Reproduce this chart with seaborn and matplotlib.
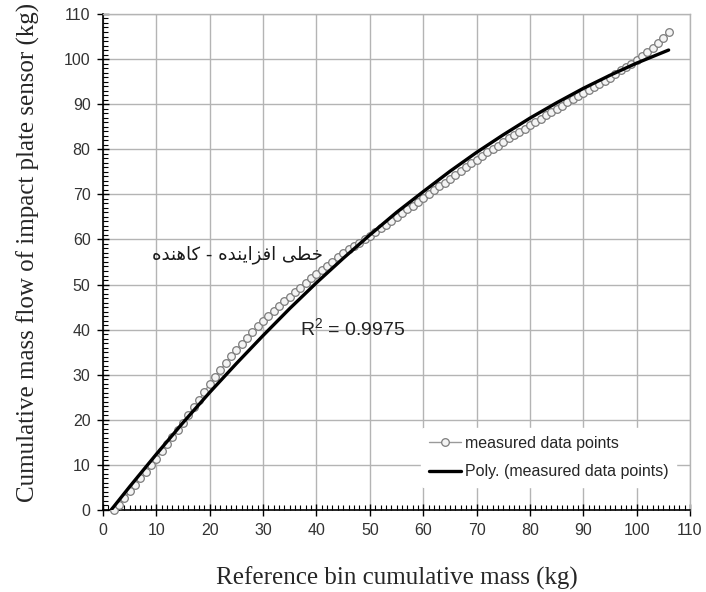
import numpy as np
import pandas as pd
import matplotlib.pyplot as plt
import seaborn as sns
from matplotlib.ticker import MultipleLocator

ref_mass = list(range(2, 107))
sensor_mass = [0.0, 1.2, 2.6, 4.2, 5.6, 7.0, 8.4, 9.9, 11.4, 13.0,
               14.6, 16.2, 17.8, 19.4, 21.1, 22.8, 24.5, 26.2, 28.0, 29.6,
               31.1, 32.6, 34.1, 35.5, 36.9, 38.2, 39.5, 40.7, 41.9, 43.0,
               44.1, 45.2, 46.3, 47.3, 48.3, 49.3, 50.3, 51.4, 52.4, 53.3,
               54.2, 55.1, 56.1, 57.0, 57.8, 58.6, 59.3, 60.1, 60.8, 61.6,
               62.5, 63.3, 64.2, 65.0, 65.9, 66.7, 67.5, 68.4, 69.2, 70.1,
               70.9, 71.8, 72.6, 73.5, 74.3, 75.2, 76.0, 76.9, 77.7, 78.5,
               79.3, 80.1, 80.8, 81.6, 82.4, 83.1, 83.9, 84.6, 85.4, 86.1,
               86.8, 87.6, 88.3, 89.0, 89.7, 90.4, 91.1, 91.7, 92.4, 93.1,
               93.8, 94.5, 95.2, 95.9, 96.7, 97.5, 98.3, 99.0, 99.8, 100.7,
               101.6, 102.5, 103.6, 104.7, 105.9]

# Poly. (measured data points) trendline
poly_x = [1.5, 5, 10, 15, 20, 25, 30, 35, 40, 45, 50, 55,
          60, 65, 70, 75, 80, 85, 90, 95, 100, 106]
poly_y = [0.0, 5.2, 12.4, 19.4, 26.1, 32.5, 38.7, 44.7, 50.4, 55.8, 61.0, 66.0,
          70.6, 75.1, 79.3, 83.2, 86.9, 90.3, 93.5, 96.4, 99.1, 102.0]

ticks = list(range(0, 111, 10))

r2_text = "R$^2$ = 0.9975"
# "خطی افزاینده - کاهنده" written in visual order with Arabic presentation
# forms, because matplotlib does no RTL shaping on its own
fa_note = ("\uFEE9\uFEAA\uFEE8\uFEEB\uFE8E\uFB90 - "
           "\uFEE9\uFEAA\uFEE8\uFBFE\uFE8D\uFEB0\uFED3\uFE8D "
           "\uFBFD\uFEC4\uFEA7")

df_meas = pd.DataFrame({"ref": ref_mass, "sensor": sensor_mass})
df_poly = pd.DataFrame({"ref": poly_x, "sensor": poly_y})

sns.set_theme(style="white")
plt.rcParams['font.family'] = ['Liberation Sans', 'DejaVu Sans']
plt.rcParams['mathtext.default'] = 'regular'

fig = plt.figure(figsize=(7.06, 5.92), dpi=100)
ax = fig.add_axes([0.146, 0.1385, 0.8313, 0.8379])

sns.lineplot(data=df_meas, x="ref", y="sensor", ax=ax, sort=False, estimator=None,
             color="#9a9a9a", linewidth=1.0, marker="o", markersize=5.5,
             markerfacecolor="#f4f4f4", markeredgecolor="#7d7d7d", markeredgewidth=0.9,
             label="measured data points", zorder=3, clip_on=False)
sns.lineplot(data=df_poly, x="ref", y="sensor", ax=ax, sort=False, estimator=None,
             color="black", linewidth=2.4, label="Poly. (measured data points)", zorder=4)

ax.set_xlim(0, 110)
ax.set_ylim(0, 110)
ax.set_xticks(ticks)
ax.set_yticks(ticks)
ax.xaxis.set_minor_locator(MultipleLocator(1))
ax.yaxis.set_minor_locator(MultipleLocator(1))
ax.grid(True, which="major", color="#b4b4b4", linewidth=1.0)
ax.set_axisbelow(True)

for side in ["left", "bottom"]:
    ax.spines[side].set_color("black")
    ax.spines[side].set_linewidth(1.2)
for side in ["top", "right"]:
    ax.spines[side].set_color("#b4b4b4")
    ax.spines[side].set_linewidth(1.0)

ax.tick_params(which="major", direction="inout", length=8, width=1.0, color="black",
               labelsize=11.5, labelcolor="#333333", pad=5, bottom=True, left=True)
ax.tick_params(which="minor", direction="in", length=3.5, width=0.8, color="black",
               bottom=True, left=True)

ax.set_xlabel("Reference bin cumulative mass (kg)", fontsize=18,
              family=["Liberation Serif"], va="center")
ax.set_ylabel("Cumulative mass flow of impact plate sensor (kg)", fontsize=18,
              family=["Liberation Serif"], va="center")
ax.xaxis.set_label_coords(0.5, -0.137)
ax.yaxis.set_label_coords(-0.128, 0.52)

ax.text(36.9, 40.4, r2_text, fontsize=14, va="center", ha="left", color="#222222")
ax.text(25.2, 56.6, fa_note, fontsize=13, va="center", ha="center",
        family=["DejaVu Sans"], color="#1a1a1a")

leg = ax.legend(loc="lower right", bbox_to_anchor=(0.99, 0.03), fontsize=11.5,
                frameon=True, handlelength=2.0, handletextpad=0.2, labelspacing=0.85,
                borderpad=0.5)
leg.get_frame().set_edgecolor("white")
leg.get_frame().set_facecolor("white")
leg.get_frame().set_alpha(1.0)

fig.savefig("out.png", dpi=100)
